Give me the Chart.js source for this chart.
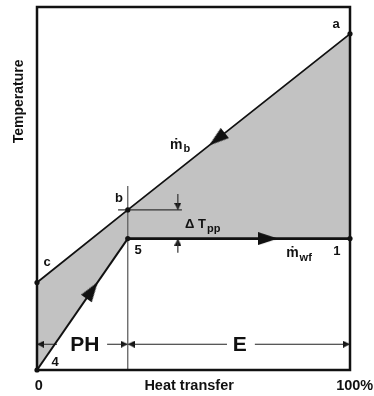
<!DOCTYPE html>
<html>
<head>
<meta charset="utf-8">
<script src="https://cdn.jsdelivr.net/npm/chart.js@4.4.1/dist/chart.umd.min.js"></script>
<style>
  html, body { margin: 0; padding: 0; background: #fff; }
  #wrap { width: 374px; height: 396px; }
</style>
</head>
<body>
<div id="wrap"><canvas id="pinch-chart" width="374" height="396"></canvas></div>
<script>
// ── Data (heat transfer in %, temperature on a relative 0-100 scale) ──
var hotQ = [0, 29, 100];           // c, b, a  (brine / heat source)
var hotT = [24.1, 44.1, 92.6];
var coldQ = [0, 29, 100];          // 4, 5, 1  (working fluid)
var coldT = [0, 36.2, 36.2];
var hotNames = ['c', 'b', 'a'];
var coldNames = ['4', '5', '1'];
var pinchQ = 29;                   // end of preheater PH
var xTickLabels = ['0', '100%'];
var xTitle = 'Heat transfer';
var yTitle = 'Temperature';

(function () {
  'use strict';

  var FONT = '"Liberation Sans", Arial, "DejaVu Sans", sans-serif';
  var INK = '#111';

  // arrow head pointing up, tip at the image centre
  function arrowHead(len, half) {
    var c = document.createElement('canvas');
    c.width = Math.ceil(half * 2);
    c.height = Math.ceil(len * 2);
    var g = c.getContext('2d');
    g.fillStyle = INK;
    g.beginPath();
    g.moveTo(half, len);
    g.lineTo(0, len * 2);
    g.lineTo(half * 2, len * 2);
    g.closePath();
    g.fill();
    return c;
  }
  var bigHead = arrowHead(20, 6.5);
  var smallHead = arrowHead(7, 3.5);

  function pts(xs, ys) {
    return xs.map(function (x, i) { return { x: x, y: ys[i] }; });
  }
  function lerpAt(qs, ts, q) {
    for (var i = 1; i < qs.length; i++) {
      if (q <= qs[i]) {
        var f = (q - qs[i - 1]) / (qs[i] - qs[i - 1]);
        return ts[i - 1] + f * (ts[i] - ts[i - 1]);
      }
    }
    return ts[ts.length - 1];
  }

  var tB = hotT[1], t5 = coldT[1];
  var dimY = 7.1;      // level of the PH / E dimension line

  // flow arrows: tip position + direction (data units)
  var arrows = [
    { x: 55, y: lerpAt(hotQ, hotT, 55), dx: -(hotQ[2] - hotQ[1]), dy: -(hotT[2] - hotT[1]), img: bigHead },
    { x: 19.4, y: lerpAt(coldQ, coldT, 19.4), dx: coldQ[1] - coldQ[0], dy: coldT[1] - coldT[0], img: bigHead },
    { x: 77, y: t5, dx: 1, dy: 0, img: bigHead },
    { x: 0, y: dimY, dx: -1, dy: 0, img: smallHead },
    { x: pinchQ, y: dimY, dx: 1, dy: 0, img: smallHead },
    { x: pinchQ, y: dimY, dx: -1, dy: 0, img: smallHead },
    { x: 100, y: dimY, dx: 1, dy: 0, img: smallHead },
    { x: 45, y: tB, dx: 0, dy: -1, img: smallHead },
    { x: 45, y: t5, dx: 0, dy: 1, img: smallHead }
  ];

  var dimLine = [
    { x: 0, y: dimY }, { x: 6.4, y: dimY }, { x: 10, y: null },
    { x: 22.4, y: dimY }, { x: pinchQ, y: dimY },
    { x: 60.7, y: dimY }, { x: 65, y: null },
    { x: 69.6, y: dimY }, { x: 100, y: dimY }
  ];
  var dtStems = [
    { x: 45, y: 48.5 }, { x: 45, y: tB }, { x: 45, y: null },
    { x: 45, y: t5 }, { x: 45, y: 32.3 }
  ];

  // ── Text annotations (data coordinates) ──────────────────────────────
  var pointLabels = [
    { t: hotNames[2], x: 95.6, y: 95.2 },
    { t: hotNames[1], x: 26.2, y: 47.4 },
    { t: hotNames[0], x: 3.2, y: 29.6 },
    { t: coldNames[1], x: 32.3, y: 32.9 },
    { t: coldNames[2], x: 95.8, y: 32.6 },
    { t: coldNames[0], x: 5.8, y: 2.2 }
  ];

  var frame = {
    id: 'frame',
    afterDraw: function (chart) {
      var ctx = chart.ctx, a = chart.chartArea;
      var xs = chart.scales.x, ys = chart.scales.y;
      function px(v) { return xs.getPixelForValue(v); }
      function py(v) { return ys.getPixelForValue(v); }
      function sub(main, s, x, y, size, subSize, drop) {
        ctx.textAlign = 'left';
        ctx.textBaseline = 'alphabetic';
        ctx.font = 'bold ' + size + 'px ' + FONT;
        ctx.fillText(main, px(x), py(y));
        var w = ctx.measureText(main).width;
        ctx.font = 'bold ' + subSize + 'px ' + FONT;
        ctx.fillText(s, px(x) + w + 1, py(y) + drop);
      }

      ctx.save();
      ctx.strokeStyle = INK;
      ctx.lineWidth = 2.5;
      ctx.strokeRect(a.left, a.top, a.right - a.left, a.bottom - a.top);

      ctx.fillStyle = INK;
      ctx.textAlign = 'center';
      ctx.textBaseline = 'middle';
      ctx.font = 'bold 13px ' + FONT;
      pointLabels.forEach(function (l) { ctx.fillText(l.t, px(l.x), py(l.y)); });

      sub('\u1E41', 'b', 42.5, 60.8, 14, 11, 3);
      sub('\u1E41', 'wf', 79.6, 31, 14, 11, 4);
      sub('\u0394 T', 'pp', 47.3, 39.2, 13, 11, 4);

      ctx.textAlign = 'center';
      ctx.textBaseline = 'middle';
      ctx.font = 'bold 21px ' + FONT;
      ctx.fillText('PH', px(15.3), py(dimY) + 1);
      ctx.fillText('E', px(64.8), py(dimY) + 1);

      ctx.font = 'bold 14.5px ' + FONT;
      ctx.fillText(xTitle, px(48.6), 386);
      ctx.fillText(xTickLabels[0], px(0.6), 386);
      ctx.fillText(xTickLabels[1], px(101.5), 386);

      ctx.font = 'bold 14px ' + FONT;
      ctx.translate(19, py(74));
      ctx.rotate(-Math.PI / 2);
      ctx.fillText(yTitle, 0, 0);
      ctx.restore();
    }
  };

  function thin(data, color) {
    return {
      data: data, borderColor: color, borderWidth: 1.2, pointRadius: 0,
      fill: false, spanGaps: false, clip: false
    };
  }

  var canvas = document.getElementById('pinch-chart');
  new Chart(canvas.getContext('2d'), {
    type: 'line',
    data: {
      datasets: [
        {
          label: 'Heat source',
          data: pts(hotQ, hotT),
          borderColor: INK,
          borderWidth: 1.8,
          backgroundColor: '#c2c2c2',
          fill: '+1',
          pointRadius: 2.6,
          pointBackgroundColor: INK,
          pointBorderWidth: 0,
          clip: false
        },
        {
          label: 'Working fluid',
          data: pts(coldQ, coldT),
          borderColor: INK,
          borderWidth: 2,
          segment: {
            borderWidth: function (c) { return c.p0DataIndex === 1 ? 2.6 : 2; }
          },
          fill: false,
          pointRadius: 2.6,
          pointBackgroundColor: INK,
          pointBorderWidth: 0,
          clip: false
        },
        thin([{ x: pinchQ, y: 0 }, { x: pinchQ, y: 50.7 }], '#555'),
        thin([{ x: 25.9, y: tB }, { x: 46.3, y: tB }], '#333'),
        thin(dtStems, '#333'),
        thin(dimLine, '#222'),
        {
          type: 'scatter',
          data: arrows.map(function (r) { return { x: r.x, y: r.y }; }),
          showLine: false,
          pointRadius: 6,
          pointStyle: arrows.map(function (r) { return r.img; }),
          rotation: function (c) {
            var r = arrows[c.dataIndex];
            if (!r) return 0;
            var xs = c.chart.scales.x, ys = c.chart.scales.y;
            var dx = xs.getPixelForValue(r.dx) - xs.getPixelForValue(0);
            var dy = ys.getPixelForValue(r.dy) - ys.getPixelForValue(0);
            return Math.atan2(dy, dx) * 180 / Math.PI + 90;
          },
          clip: false
        }
      ]
    },
    options: {
      responsive: false,
      animation: false,
      events: [],
      layout: { padding: { left: 37, right: 24, top: 5, bottom: 26 } },
      plugins: {
        legend: { display: false },
        tooltip: { enabled: false },
        filler: { drawTime: 'beforeDatasetsDraw' }
      },
      scales: {
        x: { type: 'linear', min: 0, max: 100, display: false },
        y: { type: 'linear', min: 0, max: 100, display: false }
      }
    },
    plugins: [frame]
  });
})();
</script>
</body>
</html>
